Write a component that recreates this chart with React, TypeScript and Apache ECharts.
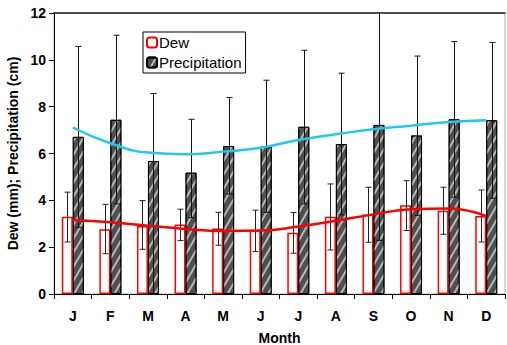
import React, { useEffect, useRef } from "react";
import * as echarts from "echarts";

const months = ["J", "F", "M", "A", "M", "J", "J", "A", "S", "O", "N", "D"];
const dew = [3.3, 2.76, 2.9, 2.97, 2.8, 2.72, 2.62, 3.3, 3.4, 3.79, 3.55, 3.33];
const dewLow = [2.22, 1.72, 1.91, 2.28, 2.08, 1.81, 1.74, 1.88, 2.21, 2.71, 2.55, 2.22];
const dewHigh = [4.35, 3.83, 3.99, 3.62, 3.49, 3.58, 3.48, 4.7, 4.56, 4.84, 4.56, 4.44];
const precip = [6.71, 7.44, 5.68, 5.18, 6.32, 6.3, 7.14, 6.4, 7.22, 6.77, 7.46, 7.42];
const precipLow = [2.85, 3.85, 0, 3.26, 4.27, 3.49, 3.85, 3.38, 2.29, 3.36, 4.13, 4.09];
const precipHigh = [10.57, 11.05, 8.56, 7.46, 8.39, 9.13, 10.41, 9.43, 12.2, 10.16, 10.78, 10.74];
const dewTrend = [3.16, 3.06, 2.92, 2.78, 2.69, 2.71, 2.88, 3.13, 3.4, 3.62, 3.65, 3.33];
const precipTrend = [7.11, 6.44, 6.04, 5.97, 6.08, 6.25, 6.58, 6.82, 7.04, 7.19, 7.34, 7.42];

const BAR_W = 11;

function errorSeries(name: string, low: number[], high: number[], offset: number, color: string) {
  return {
    name,
    type: "custom",
    z: 5,
    clip: true,
    data: low.map((l, i) => [i, l, high[i]]),
    encode: { x: 0, y: [1, 2] },
    renderItem: (params: any, api: any) => {
      const idx = api.value(0);
      const lo = api.coord([idx, api.value(1)]);
      const hi = api.coord([idx, api.value(2)]);
      const x = Math.round(lo[0] + offset) + 0.5;
      const cap = 3;
      const style = { stroke: color, lineWidth: 1 };
      return {
        type: "group",
        children: [
          { type: "line", shape: { x1: x, y1: lo[1], x2: x, y2: hi[1] }, style },
          { type: "line", shape: { x1: x - cap, y1: lo[1], x2: x + cap, y2: lo[1] }, style },
          { type: "line", shape: { x1: x - cap, y1: hi[1], x2: x + cap, y2: hi[1] }, style },
        ],
      };
    },
  };
}

export default function App() {
  const ref = useRef<HTMLDivElement>(null);
  useEffect(() => {
    if (!ref.current) return;
    const chart = echarts.init(ref.current, null, { renderer: "svg" });
    const font = "'Liberation Sans', Arial, sans-serif";
    chart.setOption({
      animation: false,
      textStyle: { fontFamily: font },
      grid: {
        left: 54,
        right: 2,
        top: 13,
        bottom: 51,
        show: true,
        borderColor: "#b0b0b0",
        borderWidth: 1,
        outerBoundsMode: "none",
        containLabel: false,
      },
      legend: {
        data: ["Dew", "Precipitation"],
        orient: "vertical",
        left: 143,
        top: 32,
        itemWidth: 10,
        itemHeight: 10,
        itemGap: 5,
        padding: [3, 4, 3, 3],
        borderColor: "#000",
        borderWidth: 1,
        backgroundColor: "#fff",
        textStyle: { fontSize: 15, color: "#000", fontFamily: font, padding: [0, 0, 0, -3] },
      },
      xAxis: [
        {
          type: "category",
          data: months,
          name: "Month",
          nameLocation: "middle",
          nameGap: 37,
          nameTextStyle: { fontSize: 14, fontWeight: "bold", color: "#000" },
          axisLine: { lineStyle: { color: "#000", width: 1 } },
          axisTick: { show: true, length: 5, lineStyle: { color: "#000" } },
          axisLabel: { fontSize: 14, fontWeight: "bold", color: "#000", margin: 15 },
        },
        {
          type: "category",
          data: months,
          position: "top",
          axisLine: { lineStyle: { color: "#222", width: 1.5 } },
          axisTick: { show: false },
          axisLabel: { show: false },
        },
      ],
      yAxis: {
        type: "value",
        min: 0,
        max: 12,
        interval: 2,
        name: "Dew (mm); Precipitation (cm)",
        nameLocation: "middle",
        nameGap: 32,
        nameTextStyle: { fontSize: 14, fontWeight: "bold", color: "#000" },
        axisLine: { show: true, lineStyle: { color: "#000", width: 1 } },
        axisTick: { show: true, length: 5, lineStyle: { color: "#000" } },
        axisLabel: { fontSize: 14, fontWeight: "bold", color: "#000", margin: 8 },
        splitLine: { show: false },
      },
      series: [
        {
          name: "Dew",
          type: "bar",
          data: dew,
          barWidth: BAR_W,
          barGap: "0%",
          itemStyle: { color: "#fff", borderColor: "#ff0000", borderWidth: 1.5 },
        },
        {
          name: "Precipitation",
          type: "bar",
          data: precip,
          barWidth: BAR_W,
          barGap: "0%",
          itemStyle: {
            color: "#4f4f4f",
            borderColor: "#000",
            borderWidth: 1,
            decal: {
              symbol: "rect",
              symbolSize: 1,
              dashArrayX: [1, 0],
              dashArrayY: [2, 5],
              rotation: -Math.PI / 3,
              color: "rgba(200,200,200,0.85)",
            },
          },
        },
        errorSeries("dewErr", dewLow, dewHigh, -BAR_W / 2, "#222"),
        errorSeries("precipErr", precipLow, precipHigh, BAR_W / 2, "#111"),
        {
          name: "precipTrend",
          type: "line",
          data: precipTrend,
          smooth: true,
          symbol: "none",
          z: 6,
          lineStyle: { color: "#1ec8f0", width: 2.5 },
        },
        {
          name: "dewTrend",
          type: "line",
          data: dewTrend,
          smooth: true,
          symbol: "none",
          z: 6,
          lineStyle: { color: "#ff0000", width: 2.5 },
        },
      ],
    });
    return () => chart.dispose();
  }, []);
  return <div ref={ref} style={{ width: 507, height: 345, position: "absolute", left: 0, top: 0 }} />;
}
